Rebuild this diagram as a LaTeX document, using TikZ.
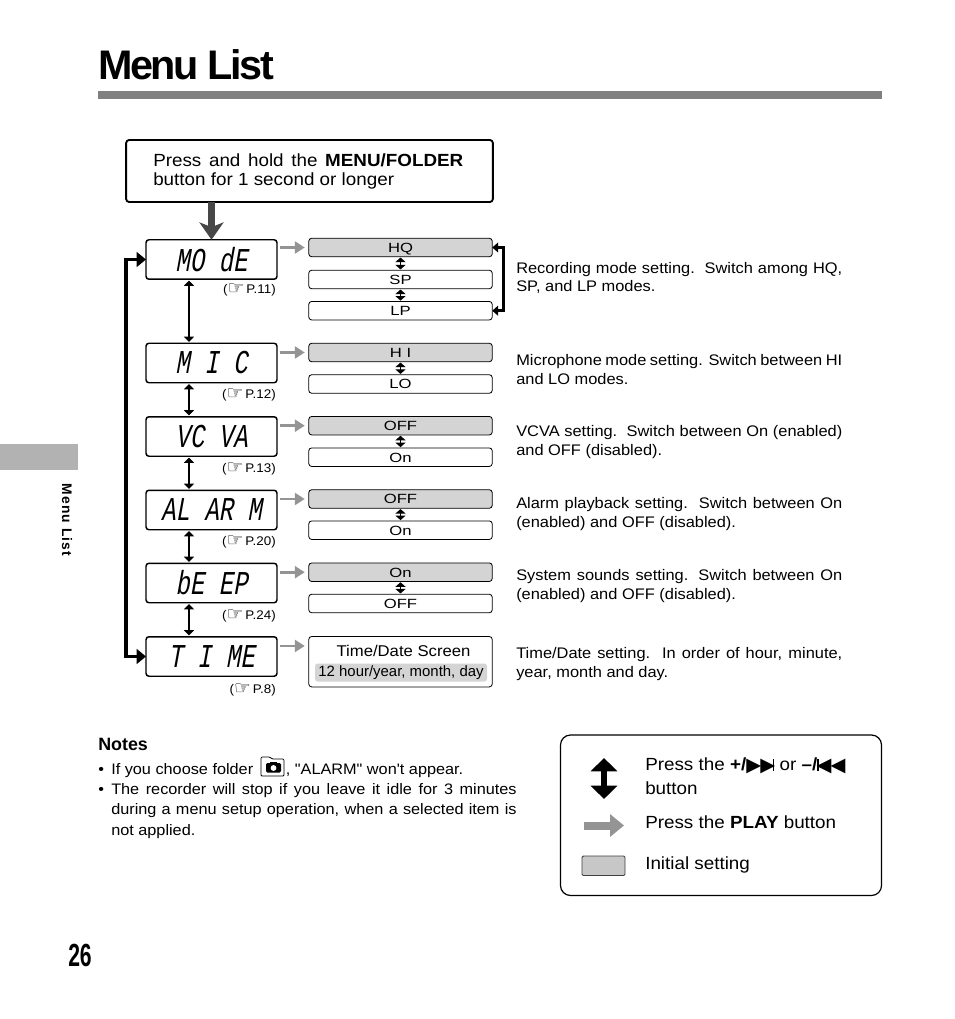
\documentclass[tikz,border=0pt]{standalone}
\usepackage{fontspec}
\usetikzlibrary{arrows.meta,calc}
\setmainfont{Liberation Sans}
\newfontfamily\widefont[FakeStretch=1.25]{Liberation Sans}
\newfontfamily\lcdfont[FakeSlant=0.18,FakeStretch=0.72]{Liberation Mono}
\newfontfamily\symfont{DejaVu Sans}
\newfontfamily\titlefont[LetterSpace=-6]{Liberation Sans}
\newfontfamily\numfont{Liberation Sans}
\newfontfamily\bodyfont[FakeStretch=1.07]{Liberation Sans}
\newcommand{\jl}[2]{\makebox[#1][s]{#2}}
\newcommand{\handref}[1]{({\symfont\fontsize{14}{10}\selectfont\raisebox{-.8pt}{☞}}\,P.#1)}
\newcommand{\fwd}{{\symfont\fontsize{14.5}{10}\selectfont\raisebox{-1.2pt}{▶\kern-.6pt▶}\kern-1.8pt\rule[-.4pt]{1.2pt}{9.2pt}}}
\newcommand{\rew}{{\symfont\fontsize{14.5}{10}\selectfont\rule[-.4pt]{1.2pt}{9.2pt}\kern-1.8pt\raisebox{-1.2pt}{◀\kern-.6pt◀}}}
\tikzset{
  top box/.style={draw=black,line width=1.4pt,rounded corners=2.2pt,minimum width=275pt,minimum height=46.5pt,inner sep=0pt,outer sep=0pt},
  lcd/.style={draw=black,line width=1.1pt,rounded corners=2.2pt,minimum width=98.25pt,minimum height=29.6pt,inner sep=0pt,outer sep=0pt,font=\lcdfont\fontsize{25}{25}\selectfont},
  opt/.style={draw=black,line width=.6pt,rounded corners=2.2pt,minimum width=137.6pt,minimum height=13.9pt,inner sep=0pt,outer sep=0pt,text height=7.3pt,text depth=0pt,font=\widefont\fontsize{10}{10}\selectfont},
  optinit/.style={opt,fill=black!17},
  greyarrow/.style={draw=black!42,line width=2.2pt,-{Triangle[length=7.5pt,width=9pt]},shorten <=2.2pt,shorten >=3pt},
  biarrow/.style={draw=black,line width=2pt,{Triangle[length=4pt,width=7.5pt]}-{Triangle[length=4pt,width=7.5pt]}},
  smallbi/.style={draw=black,line width=1.2pt,{Triangle[length=3.4pt,width=7.5pt]}-{Triangle[length=3.4pt,width=7.5pt]},shorten <=.6pt,shorten >=.6pt},
  loopline/.style={draw=black,line width=2.6pt,{Triangle[length=7pt,width=11pt]}-{Triangle[length=7pt,width=11pt]}},
  bracketline/.style={draw=black,line width=1.9pt,{Triangle[length=4.5pt,width=7.5pt]}-{Triangle[length=4.5pt,width=7.5pt]}},
  bigdown/.style={draw=black!72,line width=4.6pt,-{Stealth[length=13pt,width=18pt,inset=3.5pt]}},
  pageref/.style={anchor=east,inner sep=0pt,font=\bodyfont\fontsize{9.4}{10}\selectfont},
  desc/.style={anchor=west,align=left,inner sep=0pt,font=\bodyfont\fontsize{11.5}{13.9}\selectfont},
  note/.style={anchor=west,inner sep=0pt,font=\bodyfont\fontsize{11.4}{12}\selectfont},
  legendtext/.style={anchor=west,inner sep=0pt,font=\bodyfont\fontsize{13.2}{15}\selectfont},
}
\begin{document}
\begin{tikzpicture}[x=.75pt,y=-.75pt]
\useasboundingbox (0,0) rectangle (954,1019);
\fill[white] (0,0) rectangle (954,1019);
% header
\node[anchor=base west,inner sep=0pt,font=\titlefont\bfseries\fontsize{31}{31}\selectfont] (title) at (98,80) {Menu List};
\fill[black!50] (98,91) rectangle (882,99);
% side tab
\fill[black!30] (0,444) rectangle (78,470);
\node[rotate=-90,inner sep=0pt,font=\bfseries\fontsize{10.4}{10}\selectfont] (side) at (67,520) {\addfontfeature{LetterSpace=8}Menu List};
\node[anchor=base,inner sep=0pt,font=\numfont\bfseries\fontsize{24}{24}\selectfont] (pg) at (80,966) {\scalebox{.66}[1]{26}};
% top box
\node[top box] (top) at (309.5,171) {};
\node[anchor=west,align=left,inner sep=0pt,font=\bodyfont\fontsize{13.2}{14.3}\selectfont] (toptext) at (153,171) {\jl{232.5pt}{Press and hold the \textbf{MENU/FOLDER}}\\button for 1 second or longer};
% LCD
\node[lcd] (mode) at (211.5,259.5) {MO dE};
\node[lcd] (mic) at (211.5,363) {M I C};
\node[lcd] (vcva) at (211.5,436.5) {VC VA};
\node[lcd] (alarm) at (211.5,510) {AL AR M};
\node[lcd] (beep) at (211.5,583) {bE EP};
\node[lcd] (time) at (211.5,656.5) {T I ME};
% page references
\node[pageref] (r1) at (276,290) {\handref{11}};
\node[pageref] (r2) at (276,395) {\handref{12}};
\node[pageref] (r3) at (276,469) {\handref{13}};
\node[pageref] (r4) at (276,542) {\handref{20}};
\node[pageref] (r5) at (276,616) {\handref{24}};
\node[pageref] (r6) at (276,690) {\handref{8}};
% options
\node[optinit] (hq) at (400.5,247.5) {HQ};
\node[opt] (sp) at (400.5,279.5) {SP};
\node[opt] (lp) at (400.5,310.7) {LP};
\node[optinit] (hi) at (400.5,352.5) {H I};
\node[opt] (lo) at (400.5,384) {LO};
\node[optinit] (off1) at (400.5,425.7) {OFF};
\node[opt] (on1) at (400.5,457.2) {On};
\node[optinit] (off2) at (400.5,499) {OFF};
\node[opt] (on2) at (400.5,530.2) {On};
\node[optinit] (on3) at (400.5,572.2) {On};
\node[opt] (off3) at (400.5,603.5) {OFF};
\node[draw=black,line width=.6pt,rounded corners=2.2pt,minimum width=137.6pt,minimum height=37.8pt,inner sep=0pt,outer sep=0pt] (timebox) at (400.5,661.7) {};
\node[fill=black!17,rounded corners=2pt,minimum width=129pt,minimum height=13.5pt,inner sep=0pt,text height=8.6pt,text depth=2pt,font=\numfont\fontsize{11.2}{12}\selectfont] (timeinit) at (401,672.5) {12 hour/year, month, day};
\node[inner sep=0pt,font=\bodyfont\fontsize{11.7}{12}\selectfont] (timehead) at (403.5,650.5) {Time/Date Screen};
% connectors
\draw[bigdown] (mode.north |- top.south) -- (mode.north);
\draw[biarrow,line width=1.5pt] ([xshift=-16.9pt,yshift=-1pt]mode.south) -- ([xshift=-16.9pt,yshift=1pt]mic.north);
\foreach \a/\b in {mic/vcva,vcva/alarm,alarm/beep,beep/time}
  \draw[biarrow] ([xshift=-16.9pt,yshift=-1pt]\a.south) -- ([xshift=-16.9pt,yshift=1pt]\b.north);
\foreach \a/\b in {mode/hq,mic/hi,vcva/off1,alarm/off2,beep/on3}
  \draw[greyarrow] (\b.west -| \a.east) -- (\b.west);
\draw[greyarrow] ([yshift=7.9pt]time.east) -- ([yshift=7.9pt]time.east -| timebox.west);
\foreach \a/\b in {hq/sp,sp/lp,hi/lo,off1/on1,off2/on2,on3/off3}
  \draw[smallbi] (\a.south) -- (\b.north);
\draw[bracketline] (hq.east) -- ++(11,0) |- (lp.east);
\draw[loopline] (mode.west) -- ++(-20,0) |- (time.west);
% descriptions
\node[desc] (d1) at (516,278) {\jl{244.5pt}{Recording mode setting.\ \ Switch among HQ,}\\SP, and LP modes.};
\node[desc] (d2) at (516,369.5) {\jl{244.5pt}{Microphone mode setting. Switch between HI}\\and LO modes.};
\node[desc] (d3) at (516,442) {\jl{244.5pt}{VCVA setting.\ \ Switch between On (enabled)}\\and OFF (disabled).};
\node[desc] (d4) at (516,514) {\jl{244.5pt}{Alarm playback setting.\ \ Switch between On}\\(enabled) and OFF (disabled).};
\node[desc] (d5) at (516,586) {\jl{244.5pt}{System sounds setting. Switch between On}\\(enabled) and OFF (disabled).};
\node[desc] (d6) at (516,664) {\jl{244.5pt}{Time/Date setting.\ \ In order of hour, minute,}\\year, month and day.};
% notes
\node[anchor=west,inner sep=0pt,font=\bfseries\fontsize{13.4}{14}\selectfont] (notes) at (98,744) {Notes};
\node[note] (b1) at (98,770.5) {•};
\node[note] (n1) at (111,770.5) {If you choose folder\hspace{24.5pt}, "ALARM" won't appear.};
\node[note] (b2) at (98,790.5) {•};
\node[note] (n2) at (111,790.5) {\jl{304pt}{The recorder will stop if you leave it idle for 3 minutes}};
\node[note] (n3) at (111,811) {\jl{304pt}{during a menu setup operation, when a selected item is}};
\node[note] (n4) at (111,831.5) {not applied.};
% folder icon
\draw[black,line width=.6pt,rounded corners=.8pt] (261,776) -- (261,757) -- (270,757) -- (272,759) -- (284,759) -- (284,776) -- cycle;
\fill[black,rounded corners=1pt] (266,763) rectangle (281,772.5);
\fill[black] (270,761.5) rectangle (277,764);
\fill[white] (273.5,768) circle (2.2pt);
% legend
\draw[black,line width=.9pt,rounded corners=7.5pt] (560.5,735) rectangle (881.5,895.5);
\draw[draw=black,line width=4pt,{Triangle[length=10pt,width=19.5pt]}-{Triangle[length=10pt,width=19.5pt]}] (604,758) -- (604,799);
\draw[draw=black!42,line width=6pt,-{Triangle[length=10.5pt,width=16.5pt]}] (584,825.5) -- (624,825.5);
\draw[draw=black!75,fill=black!22,line width=.7pt,rounded corners=1pt] (582,856) rectangle (625,875.5);
\node[legendtext] (l1) at (645,766) {Press the {\bfseries +/}\fwd{} or {\bfseries –/}\rew};
\node[legendtext] (l2) at (645,788) {button};
\node[legendtext] (l3) at (645,822) {Press the \textbf{PLAY} button};
\node[legendtext] (l4) at (645,865) {Initial setting};
\end{tikzpicture}
\end{document}
